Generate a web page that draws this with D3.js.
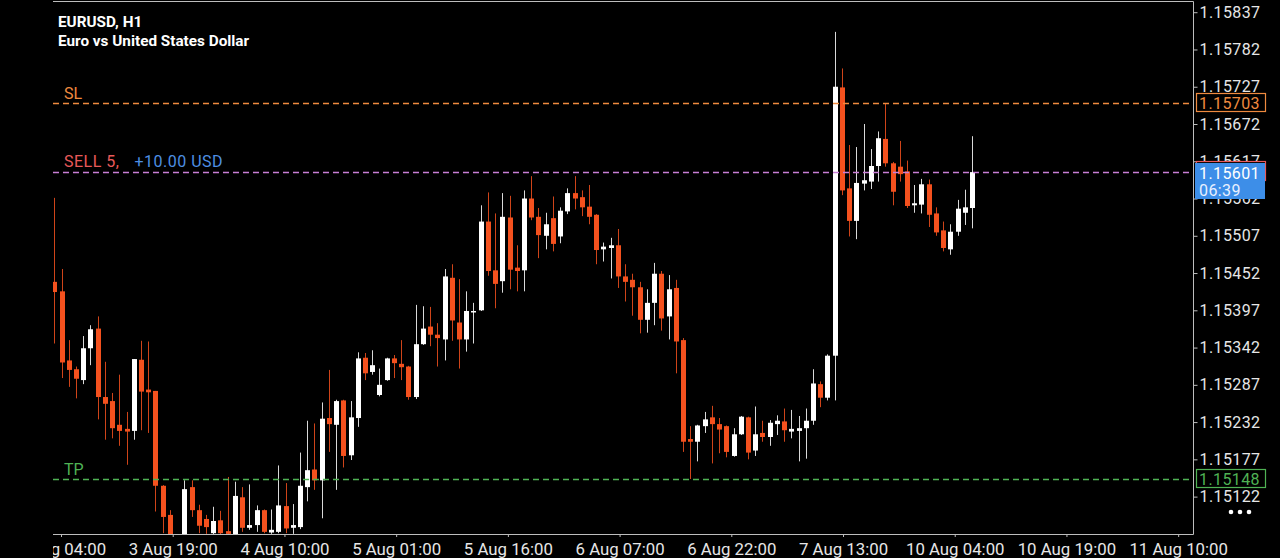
<!DOCTYPE html>
<html><head><meta charset="utf-8">
<script src="https://cdn.jsdelivr.net/npm/d3@7"></script>
<style>
html,body{margin:0;padding:0;background:#000;overflow:hidden}
svg{display:block}
text{font-family:Roboto,"Noto Sans",sans-serif}
</style>
</head><body>
<svg id="chart" width="1280" height="558"></svg>
<script>
// ---------------- DATA ----------------
const symbolTitle = "EURUSD, H1";
const symbolName = "Euro vs United States Dollar";

const openP = [
1.15439,1.15425,1.15323,1.15310,1.15294,1.15341,1.15370,1.15269,1.15263,1.15228,
1.15222,1.15219,1.15324,1.15280,1.15278,1.15138,1.15095,1.15057,1.15049,1.15136,
1.15102,1.15089,1.15068,1.15087,1.15071,1.15065,1.15121,1.15076,1.15080,1.15102,
1.15069,1.15070,1.15108,1.15076,1.15077,1.15136,1.15162,1.15146,1.15238,1.15228,
1.15264,1.15183,1.15238,1.15327,1.15306,1.15272,1.15294,1.15326,1.15318,1.15314,
1.15269,1.15347,1.15373,1.15361,1.15354,1.15445,1.15379,1.15354,1.15394,1.15397,
1.15528,1.15456,1.15440,1.15534,1.15460,1.15456,1.15562,1.15535,1.15507,1.15533,
1.15506,1.15543,1.15570,1.15564,1.15550,1.15538,1.15487,1.15489,1.15493,1.15447,
1.15442,1.15431,1.15383,1.15408,1.15451,1.15388,1.15430,1.15353,1.15207,1.15203,
1.15226,1.15239,1.15229,1.15226,1.15182,1.15214,1.15239,1.15190,1.15216,1.15210,
1.15229,1.15233,1.15218,1.15219,1.15223,1.15234,1.15288,1.15268,1.15330,1.15726,
1.15577,1.15529,1.15584,1.15587,1.15610,1.15650,1.15614,1.15609,1.15602,1.15552,
1.15553,1.15583,1.15540,1.15515,1.15487,1.15513,1.15541,1.15548];

const highP = [
1.15563,1.15458,1.15353,1.15314,1.15359,1.15375,1.15388,1.15321,1.15275,1.15302,
1.15247,1.15325,1.15352,1.15351,1.15278,1.15139,1.15102,1.15062,1.15146,1.15146,
1.15110,1.15095,1.15107,1.15101,1.15151,1.15144,1.15136,1.15140,1.15109,1.15103,
1.15103,1.15168,1.15142,1.15111,1.15187,1.15234,1.15230,1.15261,1.15309,1.15265,
1.15265,1.15263,1.15335,1.15334,1.15338,1.15311,1.15327,1.15331,1.15353,1.15315,
1.15405,1.15403,1.15402,1.15378,1.15458,1.15465,1.15443,1.15425,1.15408,1.15552,
1.15571,1.15540,1.15570,1.15566,1.15493,1.15574,1.15595,1.15548,1.15541,1.15565,
1.15549,1.15577,1.15595,1.15574,1.15582,1.15539,1.15497,1.15504,1.15517,1.15465,
1.15451,1.15439,1.15428,1.15467,1.15455,1.15449,1.15442,1.15356,1.15226,1.15228,
1.15247,1.15256,1.15238,1.15227,1.15223,1.15241,1.15240,1.15255,1.15234,1.15235,
1.15242,1.15252,1.15250,1.15241,1.15252,1.15310,1.15292,1.15332,1.15808,1.15754,
1.15641,1.15638,1.15672,1.15635,1.15661,1.15703,1.15616,1.15647,1.15618,1.15582,
1.15591,1.15590,1.15549,1.15528,1.15524,1.15560,1.15575,1.15654];

const lowP = [
1.15348,1.15297,1.15284,1.15267,1.15288,1.15316,1.15236,1.15206,1.15208,1.15197,
1.15169,1.15206,1.15220,1.15216,1.15100,1.15068,1.15046,1.15036,1.15046,1.15092,
1.15068,1.15067,1.15066,1.15064,1.15064,1.15062,1.15070,1.15073,1.15070,1.15068,
1.15067,1.15068,1.15068,1.15067,1.15074,1.15115,1.15132,1.15090,1.15188,1.15132,
1.15165,1.15176,1.15225,1.15294,1.15302,1.15270,1.15293,1.15297,1.15294,1.15265,
1.15266,1.15346,1.15344,1.15314,1.15323,1.15352,1.15311,1.15336,1.15348,1.15396,
1.15448,1.15400,1.15423,1.15428,1.15425,1.15425,1.15530,1.15474,1.15487,1.15484,
1.15496,1.15539,1.15546,1.15536,1.15524,1.15465,1.15469,1.15444,1.15430,1.15410,
1.15389,1.15363,1.15364,1.15375,1.15367,1.15354,1.15304,1.15188,1.15148,1.15174,
1.15216,1.15171,1.15186,1.15180,1.15181,1.15213,1.15177,1.15182,1.15203,1.15197,
1.15213,1.15203,1.15208,1.15174,1.15178,1.15228,1.15254,1.15264,1.15264,1.15567,
1.15506,1.15502,1.15574,1.15576,1.15587,1.15609,1.15552,1.15587,1.15548,1.15541,
1.15540,1.15520,1.15507,1.15484,1.15479,1.15507,1.15523,1.15518];

const closeP = [
1.15424,1.15320,1.15309,1.15296,1.15341,1.15369,1.15269,1.15259,1.15223,1.15219,
1.15218,1.15325,1.15277,1.15276,1.15138,1.15092,1.15058,1.15049,1.15133,1.15102,
1.15079,1.15077,1.15086,1.15068,1.15067,1.15123,1.15076,1.15080,1.15102,1.15070,
1.15073,1.15109,1.15075,1.15080,1.15138,1.15161,1.15146,1.15237,1.15229,1.15263,
1.15182,1.15239,1.15326,1.15304,1.15316,1.15287,1.15326,1.15319,1.15313,1.15269,
1.15347,1.15370,1.15361,1.15356,1.15447,1.15382,1.15354,1.15396,1.15396,1.15528,
1.15455,1.15436,1.15535,1.15457,1.15455,1.15562,1.15534,1.15508,1.15524,1.15495,
1.15544,1.15570,1.15562,1.15549,1.15535,1.15486,1.15491,1.15493,1.15447,1.15439,
1.15431,1.15383,1.15408,1.15451,1.15385,1.15428,1.15351,1.15203,1.15203,1.15227,
1.15236,1.15229,1.15221,1.15188,1.15214,1.15240,1.15187,1.15214,1.15210,1.15231,
1.15234,1.15220,1.15222,1.15223,1.15234,1.15289,1.15268,1.15330,1.15727,1.15574,
1.15529,1.15585,1.15589,1.15610,1.15651,1.15614,1.15572,1.15598,1.15551,1.15555,
1.15583,1.15538,1.15512,1.15489,1.15513,1.15547,1.15549,1.15601];

const priceTicks = ["1.15837","1.15782","1.15727","1.15672","1.15617","1.15562","1.15507",
  "1.15452","1.15397","1.15342","1.15287","1.15232","1.15177","1.15122"];
const timeLabels = ["3 Aug 04:00","3 Aug 19:00","4 Aug 10:00","5 Aug 01:00","5 Aug 16:00",
  "6 Aug 07:00","6 Aug 22:00","7 Aug 13:00","10 Aug 04:00","10 Aug 19:00","11 Aug 10:00"];

const slPrice = 1.15703, tpPrice = 1.15148, entryPrice = 1.15601, bidPrice = 1.15601;
const slText = "SL", tpText = "TP", orderText = "SELL 5,", profitText = "+10.00 USD", countdown = "06:39";

// ---------------- LAYOUT ----------------
const W = 1280, H = 558;
const plot = {left: 53, right: 1193, top: 1, bottom: 534};
const firstLabelBar = 0.93, barsPerLabel = 15.46;
const C = {
  bg: "#000", bull: "#ffffff", bear: "#f4511e", frame: "#bdbdbd", axisText: "#e6e6e6",
  sl: "#ef8a3f", tp: "#4fb254", order: "#e85a5a", profit: "#4e8fe3", bid: "#3d8ee8", entry: "#c97fd6"
};

const bars = openP.map((o, i) => ({i, o, h: highP[i], l: lowP[i], c: closeP[i]}));

const x = d3.scaleLinear().domain([0, bars.length - 1]).range([54.3, 972]);
const y = d3.scaleLinear().domain([tpPrice, slPrice]).range([479, 103]);

const svg = d3.select("#chart");
svg.append("rect").attr("width", W).attr("height", H).attr("fill", C.bg);

const defs = svg.append("defs");
defs.append("clipPath").attr("id", "plotClip").append("rect")
  .attr("x", plot.left).attr("y", plot.top).attr("width", plot.right - plot.left).attr("height", plot.bottom - plot.top);
defs.append("clipPath").attr("id", "labelClip").append("rect")
  .attr("x", plot.left).attr("y", plot.bottom).attr("width", W - plot.left).attr("height", H - plot.bottom);

// candles
const g = svg.append("g").attr("clip-path", "url(#plotClip)");
const bw = 5;
const cg = g.selectAll("g.candle").data(bars).join("g").attr("class", "candle");
cg.append("line")
  .attr("x1", d => Math.round(x(d.i)) + 0.5).attr("x2", d => Math.round(x(d.i)) + 0.5)
  .attr("y1", d => y(d.h)).attr("y2", d => y(d.l))
  .attr("stroke", d => d.c >= d.o ? C.bull : C.bear).attr("stroke-width", 1).attr("opacity", 0.85);
cg.append("rect")
  .attr("x", d => Math.round(x(d.i)) - 2).attr("width", bw)
  .attr("y", d => y(Math.max(d.o, d.c)))
  .attr("height", d => Math.max(1.5, Math.abs(y(d.o) - y(d.c))))
  .attr("fill", d => d.c >= d.o ? C.bull : C.bear);

// level lines
function level(price, color, dash) {
  g.append("line").attr("x1", plot.left).attr("x2", plot.right)
    .attr("y1", Math.round(y(price)) + 0.5).attr("y2", Math.round(y(price)) + 0.5)
    .attr("stroke", color).attr("stroke-width", 1.6).attr("stroke-dasharray", dash);
}
level(entryPrice, C.entry, "6,4");
level(slPrice, C.sl, "6,4");
level(tpPrice, C.tp, "6,4");

// level texts
svg.append("text").attr("x", 64).attr("y", y(slPrice) - 4).attr("fill", C.sl)
  .attr("font-size", 16).text(slText);
svg.append("text").attr("x", 64).attr("y", y(tpPrice) - 4).attr("fill", C.tp)
  .attr("font-size", 16).text(tpText);
const ot = svg.append("text").attr("x", 64).attr("y", y(entryPrice) - 5).attr("font-size", 16)
  .attr("letter-spacing", 0.5);
ot.append("tspan").attr("fill", C.order).text(orderText);
ot.append("tspan").attr("fill", C.profit).attr("dx", 15).text(profitText);

// title
svg.append("text").attr("x", 58).attr("y", 27).attr("fill", "#fff").attr("font-size", 15.3)
  .attr("font-weight", 700).text(symbolTitle);
svg.append("text").attr("x", 58).attr("y", 46).attr("fill", "#fff").attr("font-size", 15.3)
  .attr("font-weight", 700).text(symbolName);

// frame
svg.append("path")
  .attr("d", `M${plot.left},${plot.top + 0.5}H${plot.right + 0.5}V${plot.bottom + 0.5}H${plot.left}`)
  .attr("fill", "none").attr("stroke", C.frame).attr("stroke-width", 1);

// right price axis
const yAxis = d3.axisRight(y).tickValues(priceTicks.map(Number)).tickSize(4).tickPadding(2)
  .tickFormat((d, i) => priceTicks[i]);
const ya = svg.append("g").attr("transform", `translate(${plot.right + 0.5},0)`).call(yAxis);
ya.select(".domain").remove();
ya.selectAll("line").attr("stroke", C.frame);
ya.selectAll("text").attr("fill", C.axisText).attr("font-size", 16).attr("font-family", "Roboto, sans-serif")
  .attr("letter-spacing", 0.4);

// bottom time axis (clipped at the plot's left edge)
const labelBars = timeLabels.map((t, k) => firstLabelBar + k * barsPerLabel);
const xAxis = d3.axisBottom(x).tickValues(labelBars).tickSize(3).tickPadding(6)
  .tickFormat((d, i) => timeLabels[i]);
const xaOuter = svg.append("g").attr("clip-path", "url(#labelClip)");
const xa = xaOuter.append("g").attr("transform", `translate(0,${plot.bottom})`).call(xAxis);
xa.select(".domain").remove();
xa.selectAll("line").attr("stroke", C.frame);
xa.selectAll("text").attr("fill", C.axisText).attr("font-size", 16.8).attr("font-family", "Roboto, sans-serif");

// price boxes
function priceBox(price, color, label) {
  const cy = Math.round(y(price));
  svg.append("rect").attr("x", 1196.5).attr("y", cy - 9.5).attr("width", 69).attr("height", 18)
    .attr("fill", "#000").attr("stroke", color).attr("stroke-width", 1.2);
  svg.append("text").attr("x", 1199).attr("y", cy + 6).attr("fill", color).attr("font-size", 16)
    .attr("letter-spacing", 0.4).text(label);
}
priceBox(slPrice, C.sl, d3.format(".5f")(slPrice));
priceBox(tpPrice, C.tp, d3.format(".5f")(tpPrice));
const ey = Math.round(y(entryPrice));
svg.append("rect").attr("x", 1196.5).attr("y", ey - 10.5).attr("width", 69).attr("height", 19)
  .attr("fill", "#000").attr("stroke", C.order).attr("stroke-width", 1.2);
svg.append("rect").attr("x", 1195).attr("y", ey - 9).attr("width", 70).attr("height", 36)
  .attr("fill", C.bid);
svg.append("text").attr("x", 1199).attr("y", ey + 7).attr("fill", "#fff").attr("font-size", 16)
  .attr("letter-spacing", 0.4).text(d3.format(".5f")(bidPrice));
svg.append("text").attr("x", 1199).attr("y", ey + 24).attr("fill", "#e8f0ff").attr("font-size", 16)
  .attr("letter-spacing", 0.4).text(countdown);

// menu dots
svg.selectAll("circle.dot").data([0, 1, 2]).join("circle").attr("class", "dot")
  .attr("cx", d => 1231 + d * 9).attr("cy", 512).attr("r", 2.3).attr("fill", "#fff");
</script>
</body></html>
